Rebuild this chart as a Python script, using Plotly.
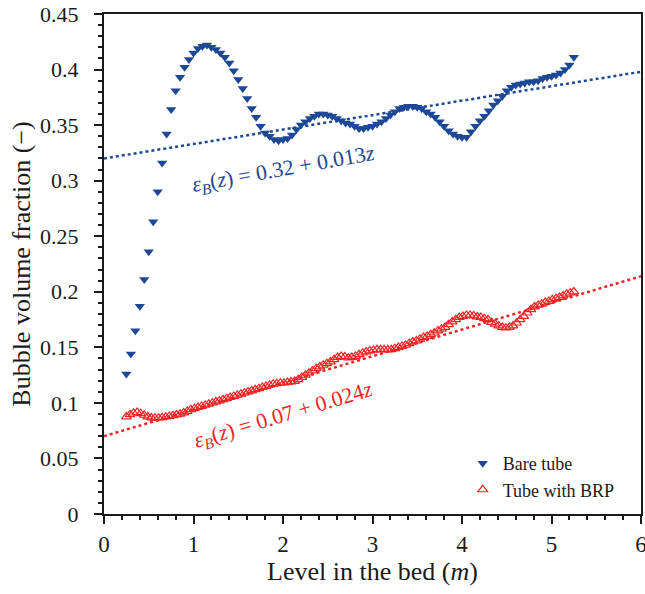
import plotly.graph_objects as go

# ---------------- data ----------------
bare_z = [0.25, 0.30, 0.35, 0.40, 0.45, 0.50, 0.55, 0.60, 0.65, 0.70,
          0.75, 0.80, 0.85, 0.90, 0.95, 1.00, 1.05, 1.10, 1.15, 1.20,
          1.25, 1.30, 1.35, 1.40, 1.45, 1.50, 1.55, 1.60, 1.65, 1.70,
          1.75, 1.80, 1.85, 1.90, 1.95, 2.00, 2.05, 2.10, 2.15, 2.20,
          2.25, 2.30, 2.35, 2.40, 2.45, 2.50, 2.55, 2.60, 2.65, 2.70,
          2.75, 2.80, 2.85, 2.90, 2.95, 3.00, 3.05, 3.10, 3.15, 3.20,
          3.25, 3.30, 3.35, 3.40, 3.45, 3.50, 3.55, 3.60, 3.65, 3.70,
          3.75, 3.80, 3.85, 3.90, 3.95, 4.00, 4.05, 4.10, 4.15, 4.20,
          4.25, 4.30, 4.35, 4.40, 4.45, 4.50, 4.55, 4.60, 4.65, 4.70,
          4.75, 4.80, 4.85, 4.90, 4.95, 5.00, 5.05, 5.10, 5.15, 5.20, 5.25]
bare_eps = [0.126, 0.144, 0.165, 0.187, 0.211, 0.236, 0.263, 0.290, 0.316, 0.342,
            0.364, 0.381, 0.393, 0.402, 0.409, 0.415, 0.419, 0.421, 0.422, 0.420,
            0.418, 0.415, 0.411, 0.406, 0.399, 0.391, 0.383, 0.374, 0.365, 0.357,
            0.349, 0.343, 0.340, 0.337, 0.336, 0.337, 0.338, 0.341, 0.346, 0.350,
            0.353, 0.356, 0.358, 0.360, 0.360, 0.359, 0.358, 0.356, 0.354, 0.352,
            0.351, 0.349, 0.347, 0.347, 0.348, 0.349, 0.351, 0.353, 0.356, 0.359,
            0.362, 0.365, 0.366, 0.367, 0.367, 0.366, 0.365, 0.362, 0.360, 0.357,
            0.353, 0.349, 0.345, 0.342, 0.340, 0.339, 0.339, 0.344, 0.349, 0.354,
            0.358, 0.363, 0.368, 0.372, 0.376, 0.381, 0.384, 0.386, 0.387, 0.388,
            0.389, 0.389, 0.390, 0.392, 0.393, 0.394, 0.395, 0.397, 0.400, 0.404, 0.411]

brp_z = [0.25, 0.29, 0.33, 0.37, 0.41, 0.45, 0.49, 0.53, 0.57, 0.61,
         0.65, 0.69, 0.73, 0.77, 0.81, 0.85, 0.89, 0.93, 0.97, 1.01,
         1.05, 1.09, 1.13, 1.17, 1.21, 1.25, 1.29, 1.33, 1.37, 1.41,
         1.45, 1.49, 1.53, 1.57, 1.61, 1.65, 1.69, 1.73, 1.77, 1.81,
         1.85, 1.89, 1.93, 1.97, 2.01, 2.05, 2.09, 2.13, 2.17, 2.21,
         2.25, 2.29, 2.33, 2.37, 2.41, 2.45, 2.49, 2.53, 2.57, 2.61,
         2.65, 2.69, 2.73, 2.77, 2.81, 2.85, 2.89, 2.93, 2.97, 3.01,
         3.05, 3.09, 3.13, 3.17, 3.21, 3.25, 3.29, 3.33, 3.37, 3.41,
         3.45, 3.49, 3.53, 3.57, 3.61, 3.65, 3.69, 3.73, 3.77, 3.81,
         3.85, 3.89, 3.93, 3.97, 4.01, 4.05, 4.09, 4.13, 4.17, 4.21,
         4.25, 4.29, 4.33, 4.37, 4.41, 4.45, 4.49, 4.53, 4.57, 4.61,
         4.65, 4.69, 4.73, 4.77, 4.81, 4.85, 4.89, 4.93, 4.97, 5.01,
         5.05, 5.09, 5.13, 5.17, 5.21, 5.25]
brp_eps = [0.0876, 0.0895, 0.0910, 0.0915, 0.0905, 0.0890, 0.0875, 0.0866, 0.0864, 0.0865,
           0.0868, 0.0874, 0.0880, 0.0886, 0.0893, 0.0900, 0.0912, 0.0925, 0.0940, 0.0950,
           0.0960, 0.0970, 0.0980, 0.0990, 0.1000, 0.1010, 0.1020, 0.1030, 0.1040, 0.1050,
           0.1060, 0.1070, 0.1080, 0.1090, 0.1100, 0.1110, 0.1120, 0.1130, 0.1140, 0.1150,
           0.1160, 0.1170, 0.1175, 0.1180, 0.1180, 0.1185, 0.1190, 0.1195, 0.1210, 0.1230,
           0.1250, 0.1270, 0.1290, 0.1310, 0.1325, 0.1340, 0.1355, 0.1370, 0.1390, 0.1410,
           0.1420, 0.1415, 0.1405, 0.1410, 0.1420, 0.1435, 0.1450, 0.1460, 0.1470, 0.1475,
           0.1480, 0.1480, 0.1480, 0.1478, 0.1480, 0.1490, 0.1500, 0.1510, 0.1520, 0.1535,
           0.1550, 0.1560, 0.1575, 0.1590, 0.1600, 0.1615, 0.1630, 0.1650, 0.1665, 0.1680,
           0.1705, 0.1730, 0.1750, 0.1770, 0.1780, 0.1790, 0.1790, 0.1785, 0.1775, 0.1770,
           0.1760, 0.1750, 0.1725, 0.1710, 0.1695, 0.1680, 0.1675, 0.1680, 0.1695, 0.1720,
           0.1750, 0.1780, 0.1810, 0.1840, 0.1865, 0.1880, 0.1890, 0.1905, 0.1915, 0.1930,
           0.1940, 0.1950, 0.1965, 0.1980, 0.1990, 0.2000]

# linear fits eps_B(z) = a + b z
bare_fit = (0.32, 0.013)
brp_fit = (0.07, 0.024)
fit_z = [0.0, 6.0]

x_ticks = [0, 1, 2, 3, 4, 5, 6]

BLUE = "#1c4896"
RED = "#ee2424"
FONT = "Liberation Serif, Times New Roman, serif"
INK = "#1a1a1a"

fig = go.Figure()

fig.add_trace(go.Scatter(
    x=fit_z, y=[bare_fit[0] + bare_fit[1] * z for z in fit_z],
    mode="lines", line=dict(color=BLUE, width=2.5, dash="dot"),
    showlegend=False, hoverinfo="skip"))
fig.add_trace(go.Scatter(
    x=fit_z, y=[brp_fit[0] + brp_fit[1] * z for z in fit_z],
    mode="lines", line=dict(color=RED, width=2.5, dash="dot"),
    showlegend=False, hoverinfo="skip"))

fig.add_trace(go.Scatter(
    x=bare_z, y=bare_eps, mode="markers", name="Bare tube",
    marker=dict(symbol="triangle-down", size=9, color=BLUE, line=dict(width=0))))
fig.add_trace(go.Scatter(
    x=brp_z, y=brp_eps, mode="markers", name="Tube with BRP",
    marker=dict(symbol="triangle-up-open", size=8.5, color=RED, line=dict(width=1.2, color=RED))))

fig.add_annotation(
    x=2.0, y=0.3096, xref="x", yref="y", showarrow=False, textangle=-10,
    text="<i>ε</i><sub><i>B</i></sub>(<i>z</i>) = 0.32 + 0.013<i>z</i>",
    font=dict(family=FONT, size=22, color=BLUE))
fig.add_annotation(
    x=2.0, y=0.088, xref="x", yref="y", showarrow=False, textangle=-16.5,
    text="<i>ε</i><sub><i>B</i></sub>(<i>z</i>) = 0.07 + 0.024<i>z</i>",
    font=dict(family=FONT, size=22, color=RED))

fig.update_layout(
    width=645, height=594,
    margin=dict(l=104, r=4, t=14, b=80, autoexpand=False),
    paper_bgcolor="white", plot_bgcolor="white",
    font=dict(family=FONT, size=22, color=INK),
    legend=dict(x=0.668, y=0.012, xanchor="left", yanchor="bottom",
                bgcolor="rgba(0,0,0,0)", font=dict(family=FONT, size=18, color=INK),
                itemwidth=30, tracegroupgap=0),
    xaxis=dict(range=[0, 6], tickmode="array", tickvals=x_ticks, automargin=False,
               ticks="outside", ticklen=8, tickwidth=2, tickcolor=INK,
               showline=True, linewidth=2, linecolor=INK, mirror=True,
               showgrid=False, zeroline=False, ticklabeloverflow="allow",
               tickfont=dict(family=FONT, size=23, color=INK),
               minor=dict(dtick=0.2, tick0=0, ticks="outside", ticklen=4, tickwidth=1.5, tickcolor=INK),
               title=dict(text="Level in the bed (<i>m</i>)", standoff=6,
                          font=dict(family=FONT, size=26, color=INK))),
    yaxis=dict(range=[0, 0.45], tickmode="linear", tick0=0, dtick=0.05, automargin=False,
               ticks="outside", ticklen=8, tickwidth=2, tickcolor=INK,
               showline=True, linewidth=2, linecolor=INK, mirror=True,
               showgrid=False, zeroline=False, ticklabeloverflow="allow",
               ticklabelstandoff=11,
               tickfont=dict(family=FONT, size=22, color=INK),
               minor=dict(dtick=0.01, tick0=0, ticks="outside", ticklen=4, tickwidth=1.5, tickcolor=INK),
               title=dict(text="Bubble volume fraction (−)", standoff=2,
                          font=dict(family=FONT, size=26, color=INK))),
)

# remove the default 8px page-body margin so the figure fills the window exactly
fig.write_html("out.html", config={"displayModeBar": False},
               post_script="document.body.style.margin='0';")
